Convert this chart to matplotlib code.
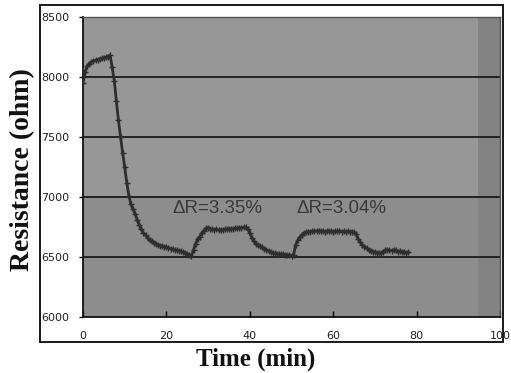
import matplotlib
matplotlib.use("Agg")
import matplotlib.pyplot as plt
from matplotlib.patches import Rectangle

# Sensor resistance sampled every 0.5 min
time_min = [i * 0.5 for i in range(157)]
resistance = [
    7950, 8040, 8090, 8110, 8125, 8135, 8140, 8145, 8150, 8155,
    8160, 8165, 8170, 8180, 8080, 7970, 7800, 7640, 7500, 7370,
    7250, 7120, 7010, 6940, 6900, 6860, 6810, 6770, 6730, 6700,
    6680, 6660, 6640, 6630, 6620, 6610, 6600, 6595, 6590, 6585,
    6583, 6578, 6570, 6565, 6560, 6555, 6552, 6548, 6540, 6535,
    6525, 6518, 6505, 6560, 6610, 6650, 6670, 6700, 6720, 6740,
    6745, 6735, 6730, 6728, 6730, 6725, 6728, 6725, 6730, 6732,
    6735, 6730, 6735, 6740, 6738, 6745, 6740, 6748, 6750, 6735,
    6700, 6660, 6630, 6610, 6600, 6590, 6580, 6570, 6560, 6550,
    6542, 6535, 6530, 6528, 6525, 6524, 6522, 6520, 6518, 6516,
    6512, 6520, 6600, 6640, 6665, 6685, 6700, 6705, 6710, 6712,
    6715, 6718, 6715, 6720, 6716, 6718, 6712, 6715, 6718, 6715,
    6712, 6716, 6714, 6718, 6712, 6715, 6710, 6714, 6712, 6710,
    6705, 6690, 6650, 6625, 6600, 6585, 6575, 6560, 6550, 6545,
    6540, 6535, 6532, 6530, 6545, 6558, 6560, 6555, 6552, 6560,
    6555, 6545, 6550, 6540, 6545, 6535, 6540,
]

x_ticks = [0, 20, 40, 60, 80, 100]
y_ticks = [6000, 6500, 7000, 7500, 8000, 8500]
annotations = [("\u0394R=3.35%", 21.5, 6905), ("\u0394R=3.04%", 51.3, 6905)]

fig = plt.figure(figsize=(5.11, 3.73), dpi=100)
fig.patch.set_facecolor("white")

ax = fig.add_axes([83 / 511, 56 / 373, 417 / 511, 300 / 373])
ax.set_xlim(0, 100)
ax.set_ylim(6000, 8500)
ax.set_facecolor("#979797")

# shaded bands of the plot area
ax.axhspan(6000, 7000, color="#8d8d8d", zorder=0, lw=0)
ax.axvspan(94.8, 100, color="#838383", zorder=0.5, lw=0)

for y in y_ticks[1:-1]:
    ax.axhline(y, color="#1a1a1a", lw=1.3, zorder=1)
ax.axhline(8500, color="#5a5a5a", lw=1.0, ls=":", zorder=1)

ax.plot(time_min, resistance, color="#2e2e2e", lw=2.0, marker="+",
        ms=5, mew=1.0, zorder=3)

for label, tx, ty in annotations:
    ax.text(tx, ty, label, fontsize=13.5, color="#3a3a3a",
            family="Liberation Sans", ha="left", va="center", zorder=4)

ax.set_xticks(x_ticks)
ax.set_yticks(y_ticks)
ax.set_xticklabels([str(v) for v in x_ticks], fontsize=8, color="#222222")
ax.set_yticklabels([str(v) for v in y_ticks], fontsize=8, color="#222222")
ax.tick_params(axis="y", direction="out", length=3, width=1, pad=7)
ax.tick_params(axis="x", direction="in", length=4, width=1, pad=10)

for side in ("left", "bottom"):
    ax.spines[side].set_color("#111111")
    ax.spines[side].set_linewidth(1.3)
for side in ("top", "right"):
    ax.spines[side].set_color("#555555")
    ax.spines[side].set_linewidth(1.0)

# outer chart frame
fig.patches.append(Rectangle((40 / 511, 31 / 373), 463 / 511, 337 / 373,
                             transform=fig.transFigure, fill=False,
                             edgecolor="#1a1a1a", lw=1.4))

fig.text(256 / 511, 1 - 359 / 373, "Time (min)", fontsize=18,
         family="Liberation Serif", weight="bold", ha="center", va="center",
         color="#111111")
fig.text(23 / 511, 1 - 170 / 373, "Resistance (ohm)", fontsize=20,
         family="Liberation Serif", weight="bold", ha="center", va="center",
         rotation=90, color="#111111")

fig.savefig("out.png", dpi=100)
